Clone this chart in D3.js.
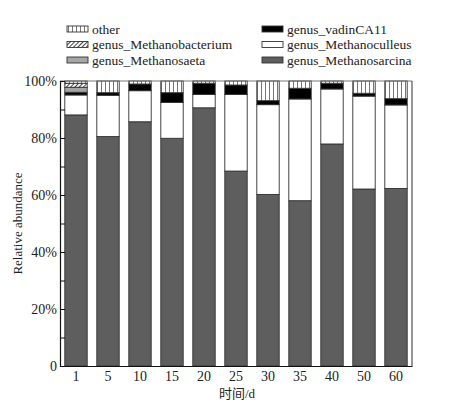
<!DOCTYPE html>
<html lang="en">
<head>
    <meta charset="UTF-8">
    <title>Relative abundance</title>
    <script src="https://d3js.org/d3.v7.min.js"></script>
    <style>
        body { margin: 0; padding: 0; background: #fff; }
        svg { display: block; }
        text { font-family: 'Liberation Serif', 'Times New Roman', 'Noto Sans CJK SC', serif; fill: #222; }
    </style>
</head>
<body>
    <svg id="chart" width="452" height="412"></svg>
    <script>
        // data (percent)
        const days = ["1", "5", "10", "15", "20", "25", "30", "35", "40", "50", "60"];
        const methanosarcina   = [88.1, 80.5, 85.7, 79.9, 90.6, 68.4, 60.2, 58.0, 77.9, 62.1, 62.3];
        const methanoculleus   = [7.0, 14.5, 10.9, 12.6, 4.7, 26.9, 31.5, 35.7, 19.3, 32.6, 29.3];
        const vadinCA11        = [0.95, 0.9, 2.35, 3.4, 3.9, 3.3, 1.4, 3.75, 2.0, 1.0, 2.2];
        const methanosaeta     = [1.75, 0, 0, 0, 0, 0, 0, 0, 0, 0, 0];
        const methanobacterium = [1.4, 0, 0, 0, 0, 0, 0, 0, 0, 0, 0];
        const other            = [0.8, 4.1, 1.05, 4.1, 0.8, 1.4, 6.9, 2.55, 0.8, 4.3, 6.2];
        const yTicks = [0, 10, 20, 30, 40, 50, 60, 70, 80, 90, 100];

        const series = [
            { key: "genus_Methanosarcina", values: methanosarcina, fill: "#5e5e5e" },
            { key: "genus_Methanoculleus", values: methanoculleus, fill: "#ffffff" },
            { key: "genus_vadinCA11", values: vadinCA11, fill: "#000000" },
            { key: "genus_Methanosaeta", values: methanosaeta, fill: "#a6a6a6" },
            { key: "genus_Methanobacterium", values: methanobacterium, fill: "url(#hatch)" },
            { key: "other", values: other, fill: "url(#vlines)" }
        ];

        const rows = days.map((d, i) => {
            const r = { day: d };
            series.forEach(s => { r[s.key] = s.values[i]; });
            return r;
        });

        const margin = { left: 60, right: 40, top: 81, bottom: 46 };
        const svg = d3.select("#chart");
        const W = 452, H = 412;

        const defs = svg.append("defs");
        const vl = defs.append("pattern").attr("id", "vlines")
            .attr("patternUnits", "userSpaceOnUse").attr("width", 4).attr("height", 4);
        vl.append("rect").attr("width", 4).attr("height", 4).attr("fill", "#fff");
        vl.append("line").attr("x1", 1.5).attr("x2", 1.5).attr("y1", 0).attr("y2", 4)
            .attr("stroke", "#777").attr("stroke-width", 1);
        const ht = defs.append("pattern").attr("id", "hatch")
            .attr("patternUnits", "userSpaceOnUse").attr("width", 3).attr("height", 3)
            .attr("patternTransform", "rotate(45)");
        ht.append("rect").attr("width", 3).attr("height", 3).attr("fill", "#fff");
        ht.append("line").attr("x1", 0.5).attr("x2", 0.5).attr("y1", 0).attr("y2", 3)
            .attr("stroke", "#444").attr("stroke-width", 1);

        const x = d3.scaleBand().domain(days)
            .range([margin.left, W - margin.right])
            .paddingInner(0.3).paddingOuter(0.15);
        const y = d3.scaleLinear().domain([0, 100]).range([H - margin.bottom, margin.top]);

        const stack = d3.stack().keys(series.map(s => s.key));
        const stacked = stack(rows);

        svg.append("g").selectAll("g")
            .data(stacked)
            .join("g")
            .attr("fill", (d, i) => series[i].fill)
            .selectAll("rect")
            .data(d => d.filter(p => p[1] - p[0] > 0))
            .join("rect")
            .attr("x", d => x(d.data.day))
            .attr("width", x.bandwidth())
            .attr("y", d => y(d[1]))
            .attr("height", d => y(d[0]) - y(d[1]))
            .attr("stroke", "#333")
            .attr("stroke-width", 0.9);

        // frame
        svg.append("line")
            .attr("x1", margin.left).attr("x2", W - margin.right)
            .attr("y1", y(100)).attr("y2", y(100))
            .attr("stroke", "#777").attr("stroke-width", 1);
        svg.append("line")
            .attr("x1", W - margin.right).attr("x2", W - margin.right)
            .attr("y1", y(100)).attr("y2", y(0))
            .attr("stroke", "#333").attr("stroke-width", 1);

        // y axis, ticks pointing in
        const yAxis = d3.axisLeft(y).tickValues(yTicks).tickSize(-5).tickPadding(3)
            .tickFormat(d => d === 0 ? "0" : (d % 20 === 0 ? d + "%" : ""));
        const gy = svg.append("g").attr("transform", `translate(${margin.left},0)`).call(yAxis);
        gy.select(".domain").attr("stroke", "#111").attr("stroke-width", 1.2);
        gy.selectAll(".tick line").attr("stroke", "#111");
        gy.selectAll("text").style("font-size", "14px").attr("fill", "#222");

        // x axis, no tick marks
        const xAxis = d3.axisBottom(x).tickSize(0).tickPadding(5);
        const gx = svg.append("g").attr("transform", `translate(0,${y(0)})`).call(xAxis);
        gx.select(".domain").attr("stroke", "#111").attr("stroke-width", 1.2);
        gx.selectAll("text").style("font-size", "14px").attr("fill", "#222");

        svg.append("text")
            .attr("transform", `translate(22,${(y(0) + y(100)) / 2}) rotate(-90)`)
            .attr("text-anchor", "middle")
            .style("font-size", "13px")
            .text("Relative abundance");
        svg.append("text")
            .attr("x", 237).attr("y", 398)
            .attr("text-anchor", "middle")
            .style("font-size", "13px")
            .text("时间/d");

        // legend
        const legendItems = [
            { s: series[5], col: 0, row: 0 },
            { s: series[4], col: 0, row: 1 },
            { s: series[3], col: 0, row: 2 },
            { s: series[2], col: 1, row: 0 },
            { s: series[1], col: 1, row: 1 },
            { s: series[0], col: 1, row: 2 }
        ];
        const lg = svg.append("g").selectAll("g")
            .data(legendItems)
            .join("g")
            .attr("transform", d => `translate(${d.col === 0 ? 67 : 262},${29 + d.row * 15.5})`);
        lg.append("rect")
            .attr("x", 0).attr("y", -3).attr("width", 21).attr("height", 6)
            .attr("fill", d => d.s.fill).attr("stroke", "#333").attr("stroke-width", 0.9);
        lg.append("text")
            .attr("x", 25).attr("y", 4.5)
            .style("font-size", "13.5px")
            .text(d => d.s.key);
    </script>
</body>
</html>
